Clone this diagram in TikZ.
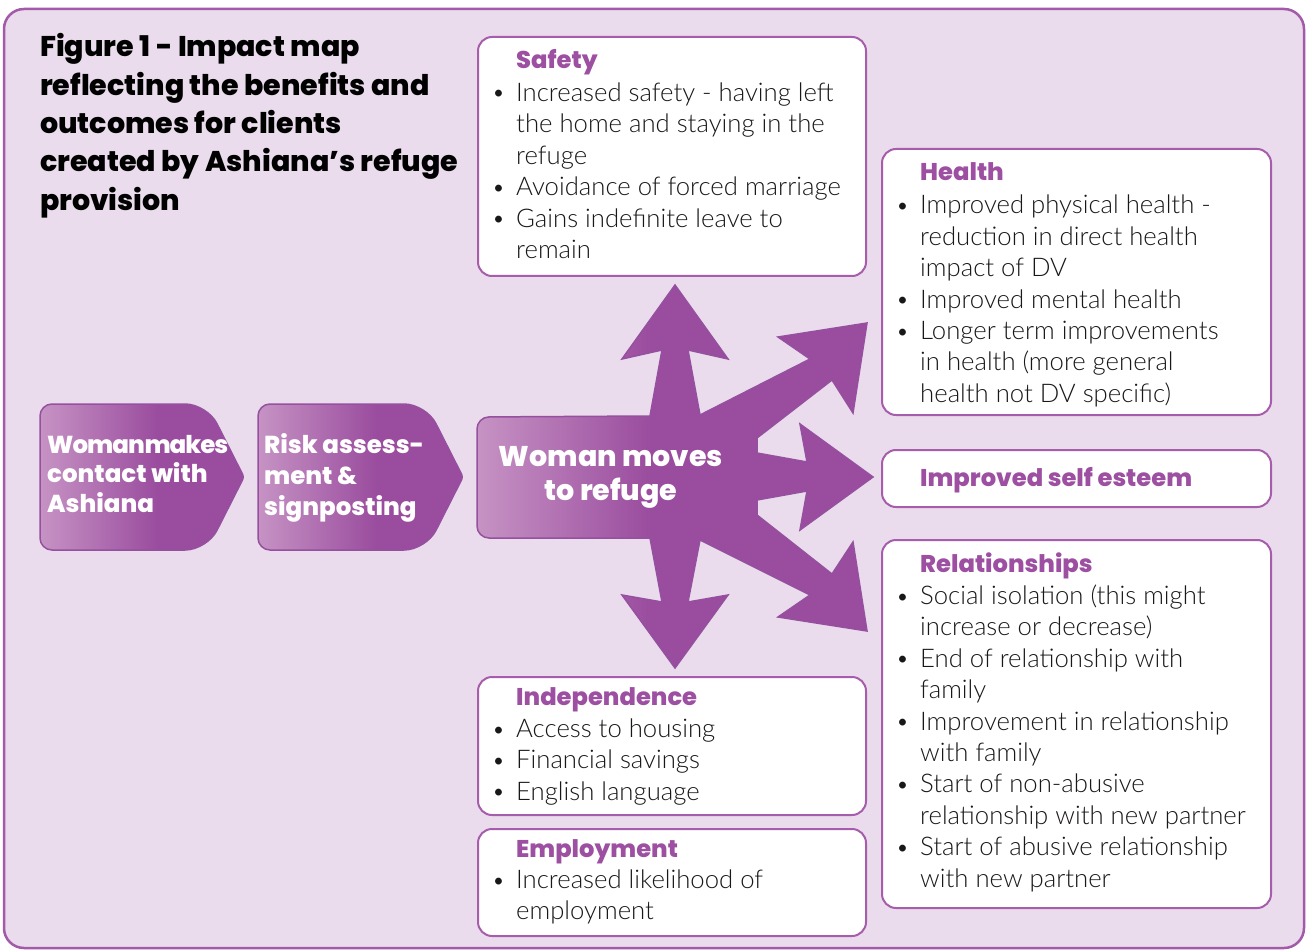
\documentclass[tikz,border=0pt]{standalone}
\usepackage{fontspec}
\setmainfont{Lato Light}
\newfontfamily\headfont{Poppins ExtraBold}
\definecolor{bg}{HTML}{EADCEC}
\definecolor{frame}{HTML}{A35AA8}
\definecolor{boxborder}{HTML}{A65DAB}
\definecolor{tpurple}{HTML}{9D4FA2}
\definecolor{pdark}{HTML}{9A4C9E}
\definecolor{plight}{HTML}{C693C4}
\definecolor{pedge}{HTML}{9550A0}
\definecolor{ink}{HTML}{1A1718}
\pgfdeclarehorizontalshading{starshade}{100bp}{color(0bp)=(plight); color(25bp)=(plight); color(47bp)=(pdark); color(100bp)=(pdark)}
\pgfdeclarehorizontalshading{chevshade}{100bp}{color(0bp)=(plight); color(25bp)=(plight); color(54bp)=(pdark); color(100bp)=(pdark)}
\newcommand\bl{\llap{\raisebox{0.5pt}{\scalebox{0.9}{\textbullet}}\hspace{11pt}}}
\newcommand\lines[1]{\begin{tabular}[t]{@{}l@{}}#1\end{tabular}}
\tikzset{
  box/.style={draw=boxborder, line width=2pt, fill=white, rounded corners=14pt, anchor=north west, inner sep=0pt},
  bodytext/.style={anchor=base west, inner sep=0pt, text=ink, font=\fontsize{25.7}{31.4}\selectfont},
  boxtitle/.style={anchor=base west, inner sep=0pt, text=tpurple, font=\headfont\fontsize{24.2}{26}\selectfont},
  chevtext/.style={anchor=base west, inner sep=0pt, text=white, font=\headfont\fontsize{24.5}{29.5}\selectfont},
  shapeedge/.style={draw=pedge, line width=1.5pt},
}
\begin{document}
\begin{tikzpicture}[x=1pt,y=-1pt]
\useasboundingbox (0,0) rectangle (1307,952);
\fill[white] (0,0) rectangle (1307,952);
\draw[frame, line width=2.5pt, fill=bg, rounded corners=20pt] (4,9) rectangle (1304,948);

% title
\node[anchor=base west, inner sep=0pt, text=black, font=\headfont\fontsize{28.5}{38.3}\selectfont] (title) at (40,57)
  {\lines{Figure 1 - Impact map\\reflecting the benefits and\\outcomes for clients\\created by Ashiana’s refuge\\provision}};

% chevrons
\shade[shading=chevshade, shapeedge] (40,477) [rounded corners=12pt] -- (40,404) [rounded corners=22pt] -- (207,404) [rounded corners=3pt] -- (244,477) [rounded corners=22pt] -- (207,550) [rounded corners=12pt] -- (40,550) -- cycle;
\shade[shading=chevshade, shapeedge] (258,477) [rounded corners=12pt] -- (258,404) [rounded corners=22pt] -- (426,404) [rounded corners=3pt] -- (463,477) [rounded corners=22pt] -- (426,550) [rounded corners=12pt] -- (258,550) -- cycle;
\node[chevtext] (contact) at (47,453) {\lines{{\addfontfeatures{LetterSpace=-4}Woman\hspace{-4pt} makes}\\contact with\\Ashiana}};
\node[chevtext, font=\headfont\fontsize{24.5}{31}\selectfont] (risk) at (264,453) {\lines{Risk assess-\\ment \&\\signposting}};

% central star
\shade[shading=starshade, shapeedge] (477,477) [rounded corners=12pt] -- (477,417) [sharp corners] -- (650,416) -- (662,350) -- (622,359) -- (675,285) -- (728,359) -- (688,350) -- (700,415)
  -- (810,359) -- (778,337) -- (867,323) -- (853,413) -- (832,380) -- (757,438)
  -- (757,453) -- (807,462) -- (800,424) -- (873,477) -- (800,530) -- (807,491) -- (757,500)
  -- (757,515) -- (832,574) -- (853,542) -- (867,631) -- (778,617) -- (810,595) -- (700,540)
  -- (688,602) -- (728,595) -- (675,668) -- (622,595) -- (662,602) -- (650,538) [rounded corners=12pt] -- (477,538) -- cycle;
\node[anchor=base, inner sep=0pt, text=white, font=\headfont\fontsize{28.5}{34}\selectfont] (refuge) at (611,466)
  {\begin{tabular}[t]{@{}c@{}}Woman moves\\to refuge\end{tabular}};

% boxes
\node[box, minimum width=388pt, minimum height=239pt] (safety) at (477,36) {};
\node[box, minimum width=389pt, minimum height=266pt] (health) at (881,148) {};
\node[box, minimum width=389pt, minimum height=57pt] (esteem) at (881,449) {};
\node[box, minimum width=389pt, minimum height=368pt] (relations) at (881,539) {};
\node[box, minimum width=388pt, minimum height=138pt] (independence) at (477,676) {};
\node[box, minimum width=388pt, minimum height=107pt] (employment) at (477,828) {};

% box texts
\node[boxtitle] (safetyt) at (516,69) {Safety};
\node[bodytext] (safetyb) at (516,101.5) {\lines{\bl Increased safety - having left\\the home and staying in the\\refuge\\\bl Avoidance of forced marriage\\\bl Gains indefinite leave to\\remain}};

\node[boxtitle] (healtht) at (920,181) {Health};
\node[bodytext] (healthb) at (920,214) {\lines{\bl Improved physical health -\\reduction in direct health\\impact of DV\\\bl Improved mental health\\\bl Longer term improvements\\in health (more general\\health not DV specific)}};

\node[boxtitle] (esteemt) at (920,486) {Improved self esteem};

\node[boxtitle] (relationst) at (920,572) {Relationships};
\node[bodytext] (relationsb) at (920,604.5) {\lines{\bl Social isolation (this might\\increase or decrease)\\\bl End of relationship with\\family\\\bl Improvement in relationship\\with family\\\bl Start of non-abusive\\relationship with new partner\\\bl Start of abusive relationship\\with new partner}};

\node[boxtitle] (independencet) at (516,705) {Independence};
\node[bodytext] (independenceb) at (516,737.5) {\lines{\bl Access to housing\\\bl Financial savings\\\bl English language}};

\node[boxtitle] (employmentt) at (516,857) {Employment};
\node[bodytext] (employmentb) at (516,888.5) {\lines{\bl Increased likelihood of\\employment}};
\end{tikzpicture}
\end{document}
